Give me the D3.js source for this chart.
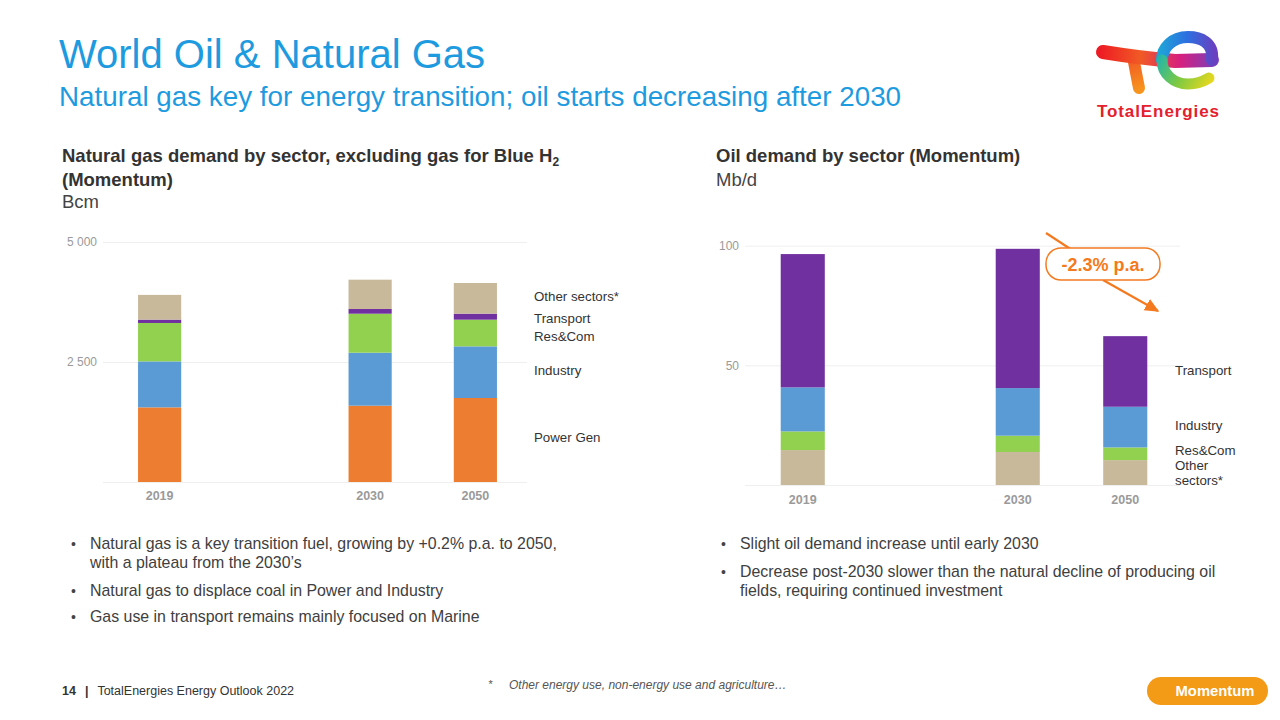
<!DOCTYPE html>
<html>
<head>
<meta charset="utf-8">
<script src="https://cdn.jsdelivr.net/npm/d3@7"></script>
<style>
  html, body { margin: 0; padding: 0; background: #fff; }
  svg { display: block; font-family: "Liberation Sans", Arial, Helvetica, sans-serif; }
</style>
</head>
<body>
<svg id="chart" width="1280" height="720"></svg>
<script>
// ---------------- DATA ----------------
const years = ["2019", "2030", "2050"];
const slots = ["2019", "gap", "2030", "2050"];

// Natural gas demand by sector (Bcm), bottom to top
const gasSectors = ["Power Gen", "Industry", "Res&Com", "Transport", "Other sectors*"];
const gasPowerGen = [1555, 1590, 1750];
const gasIndustry = [958, 1104, 1076];
const gasResCom = [800, 812, 556];
const gasTransport = [70, 98, 125];
const gasOther = [515, 611, 639];
const gasTicks = [2500, 5000];

// Oil demand by sector (Mb/d), bottom to top
const oilSectors = ["Other sectors*", "Res&Com", "Industry", "Transport"];
const oilOther = [14.6, 13.8, 10.4];
const oilResCom = [7.8, 6.8, 5.3];
const oilIndustry = [18.4, 19.9, 17.0];
const oilTransport = [55.7, 58.2, 29.5];
const oilTicks = [50, 100];

const sectorColors = {
  "Power Gen": "#ED7D31",
  "Industry": "#5B9BD5",
  "Res&Com": "#92D050",
  "Transport": "#7030A0",
  "Other sectors*": "#C9B99B"
};

const leftBullets = [
  ["Natural gas is a key transition fuel, growing by +0.2% p.a. to 2050,", "with a plateau from the 2030’s"],
  ["Natural gas to displace coal in Power and Industry"],
  ["Gas use in transport remains mainly focused on Marine"]
];
const rightBullets = [
  ["Slight oil demand increase until early 2030"],
  ["Decrease post-2030 slower than the natural decline of producing oil", "fields, requiring continued investment"]
];

// ---------------- DRAW ----------------
const svg = d3.select("#chart");
const blue = "#1E9BDF";
const textDark = "#333";
const axisGray = "#9a9a9a";

// Titles
svg.append("text").attr("x", 59).attr("y", 68).attr("fill", blue)
  .attr("font-size", 40).text("World Oil & Natural Gas");
svg.append("text").attr("x", 59).attr("y", 106).attr("fill", blue)
  .attr("font-size", 27.8).text("Natural gas key for energy transition; oil starts decreasing after 2030");

// Chart headings
const hs = 18.5;
const h1 = svg.append("text").attr("x", 62).attr("y", 162).attr("fill", textDark)
  .attr("font-size", hs).attr("font-weight", "bold");
h1.append("tspan").text("Natural gas demand by sector, excluding gas for Blue H");
h1.append("tspan").attr("font-size", 12).attr("dy", 4).text("2");
svg.append("text").attr("x", 62).attr("y", 186).attr("fill", textDark)
  .attr("font-size", hs).attr("font-weight", "bold").text("(Momentum)");
svg.append("text").attr("x", 62).attr("y", 208).attr("fill", "#444")
  .attr("font-size", hs).text("Bcm");

svg.append("text").attr("x", 716).attr("y", 162).attr("fill", textDark)
  .attr("font-size", hs).attr("font-weight", "bold").text("Oil demand by sector (Momentum)");
svg.append("text").attr("x", 716).attr("y", 186).attr("fill", "#444")
  .attr("font-size", hs).text("Mb/d");

const fmt = d3.formatLocale({ decimal: ",", thousands: " ", grouping: [3], currency: ["", ""] }).format(",");

function drawChart(cfg) {
  const g = svg.append("g");
  const x = d3.scaleBand().domain(slots).range(cfg.xRange).paddingInner(0.59).paddingOuter(0.295);
  const y = d3.scaleLinear().domain([0, cfg.yMax]).range(cfg.yRange);

  const yAxis = d3.axisLeft(y).tickValues(cfg.ticks).tickFormat(cfg.fmt)
    .tickSize(-(cfg.gridEnd - cfg.gridStart)).tickPadding(6);
  const ya = g.append("g").attr("transform", `translate(${cfg.gridStart},0)`).call(yAxis);
  ya.select(".domain").remove();
  ya.selectAll(".tick line").attr("stroke", "#EFEFEF").attr("stroke-width", 1);
  ya.selectAll(".tick text").attr("fill", axisGray).attr("font-size", 12)
    .attr("font-family", "Liberation Sans, Arial, sans-serif");
  g.append("line").attr("x1", cfg.gridStart).attr("x2", cfg.gridEnd)
    .attr("y1", y(0) + 0.5).attr("y2", y(0) + 0.5).attr("stroke", "#EFEFEF");

  const rows = years.map((yr, i) => {
    const r = { year: yr };
    cfg.keys.forEach((k, j) => { r[k] = cfg.series[j][i]; });
    return r;
  });
  const stack = d3.stack().keys(cfg.keys)(rows);
  g.selectAll("g.layer").data(stack).join("g").attr("class", "layer")
    .attr("fill", d => sectorColors[d.key])
    .selectAll("rect").data(d => d).join("rect")
    .attr("x", d => x(d.data.year))
    .attr("width", x.bandwidth())
    .attr("y", d => y(d[1]))
    .attr("height", d => y(d[0]) - y(d[1]));

  const xAxis = d3.axisBottom(x).tickValues(years).tickSize(0).tickPadding(cfg.xPad);
  const xa = g.append("g").attr("transform", `translate(0,${y(0)})`).call(xAxis);
  xa.select(".domain").remove();
  xa.selectAll(".tick text").attr("fill", axisGray).attr("font-size", 12.5).attr("font-weight", "bold")
    .attr("font-family", "Liberation Sans, Arial, sans-serif");

  cfg.labels.forEach(l => {
    g.append("text").attr("x", cfg.labelX).attr("y", l.y).attr("fill", textDark)
      .attr("font-size", 13.3).text(l.t);
  });
  return { x, y };
}

drawChart({
  xRange: [107, 528], yRange: [482, 242], yMax: 5000,
  gridStart: 103, gridEnd: 527, ticks: gasTicks, fmt: fmt, xPad: 9,
  keys: gasSectors,
  series: [gasPowerGen, gasIndustry, gasResCom, gasTransport, gasOther],
  labelX: 534,
  labels: [
    { t: "Other sectors*", y: 301 }, { t: "Transport", y: 323 }, { t: "Res&Com", y: 341 },
    { t: "Industry", y: 375 }, { t: "Power Gen", y: 442 }
  ]
});

drawChart({
  xRange: [749, 1179], yRange: [485, 245.7], yMax: 100,
  gridStart: 745, gridEnd: 1180, ticks: oilTicks, fmt: d3.format("d"), xPad: 10,
  keys: oilSectors,
  series: [oilOther, oilResCom, oilIndustry, oilTransport],
  labelX: 1175,
  labels: [
    { t: "Transport", y: 375 }, { t: "Industry", y: 430 }, { t: "Res&Com", y: 455 },
    { t: "Other", y: 470 }, { t: "sectors*", y: 485 }
  ]
});

// Annotation -2.3% p.a.
const orange = "#F47A20";
const defs = svg.append("defs");
defs.append("marker").attr("id", "arrow").attr("viewBox", "0 0 10 10")
  .attr("refX", 9).attr("refY", 5).attr("markerWidth", 6.5).attr("markerHeight", 6.5)
  .attr("markerUnits", "strokeWidth")
  .attr("orient", "auto")
  .append("path").attr("d", "M0,0.5 L10,5 L0,9.5 z").attr("fill", orange);
svg.append("line").attr("x1", 1046).attr("y1", 233).attr("x2", 1072).attr("y2", 250)
  .attr("stroke", orange).attr("stroke-width", 2.2);
svg.append("line").attr("x1", 1103).attr("y1", 280).attr("x2", 1158).attr("y2", 311)
  .attr("stroke", orange).attr("stroke-width", 2.2).attr("marker-end", "url(#arrow)");
svg.append("rect").attr("x", 1046).attr("y", 248).attr("width", 114).attr("height", 32)
  .attr("rx", 15).attr("fill", "#fff").attr("stroke", orange).attr("stroke-width", 1.5);
svg.append("text").attr("x", 1103).attr("y", 271).attr("text-anchor", "middle")
  .attr("fill", orange).attr("font-size", 18).attr("font-weight", "bold").text("-2.3% p.a.");

// Bullets
function bullets(list, bx, tx, ys) {
  let k = 0;
  list.forEach(lines => {
    svg.append("text").attr("x", bx).attr("y", ys[k]).attr("fill", "#444").attr("font-size", 14).text("•");
    lines.forEach(line => {
      svg.append("text").attr("x", tx).attr("y", ys[k]).attr("fill", "#404040")
        .attr("font-size", 15.9).text(line);
      k++;
    });
  });
}
bullets(leftBullets, 71, 90, [549, 568, 596, 622]);
bullets(rightBullets, 721, 740, [549, 577, 596]);

// Footer
const ft = svg.append("text").attr("x", 62).attr("y", 695).attr("fill", textDark).attr("font-size", 12.5);
ft.append("tspan").attr("font-weight", "bold").text("14");
ft.append("tspan").attr("dx", 9).attr("font-weight", "bold").text("|");
ft.append("tspan").attr("dx", 9).text("TotalEnergies Energy Outlook 2022");
svg.append("text").attr("x", 488).attr("y", 688).attr("fill", "#555").attr("font-size", 11)
  .attr("font-style", "italic").text("*");
svg.append("text").attr("x", 509).attr("y", 689).attr("fill", "#555").attr("font-size", 12)
  .attr("font-style", "italic").text("Other energy use, non-energy use and agriculture…");

svg.append("rect").attr("x", 1147).attr("y", 677).attr("width", 121).attr("height", 28)
  .attr("rx", 14).attr("fill", "#F39A16");
svg.append("text").attr("x", 1215).attr("y", 696).attr("text-anchor", "middle").attr("fill", "#fff")
  .attr("font-size", 14.8).attr("font-weight", "bold").text("Momentum");

// Logo (approximation)
function grad(id, x1, y1, x2, y2, stops) {
  const lg = defs.append("linearGradient").attr("id", id).attr("gradientUnits", "userSpaceOnUse")
    .attr("x1", x1).attr("y1", y1).attr("x2", x2).attr("y2", y2);
  stops.forEach(s => lg.append("stop").attr("offset", s[0]).attr("stop-color", s[1]));
}
grad("gBar", 1100, 55, 1215, 58, [[0, "#ED1C24"], [0.35, "#F15A24"], [0.7, "#D6207F"], [1, "#7B3FB8"]]);
grad("gStem", 1130, 60, 1140, 90, [[0, "#F15A24"], [1, "#F7941D"]]);
grad("gTop", 1215, 58, 1160, 58, [[0, "#6A3FC0"], [0.5, "#2D6FE0"], [1, "#1FA3D8"]]);
grad("gBot", 1158, 55, 1210, 85, [[0, "#1FB5B0"], [0.5, "#7BC943"], [1, "#E6D81E"]]);

const logo = svg.append("g");
logo.append("path").attr("d", "M1134,62 Q1137,78 1139,88").attr("fill", "none")
  .attr("stroke", "url(#gStem)").attr("stroke-width", 12).attr("stroke-linecap", "round");
logo.append("path").attr("d", "M1103,52 Q1140,58 1175,61 L1212,60").attr("fill", "none")
  .attr("stroke", "url(#gBar)").attr("stroke-width", 14).attr("stroke-linecap", "round");
logo.append("path").attr("d", "M1212,60 C1214,42 1200,37 1188,37 C1172,37 1162,48 1162,60")
  .attr("fill", "none").attr("stroke", "url(#gTop)").attr("stroke-width", 12).attr("stroke-linecap", "round");
logo.append("path").attr("d", "M1162,60 C1162,74 1174,84 1188,84 C1198,84 1204,81 1209,78")
  .attr("fill", "none").attr("stroke", "url(#gBot)").attr("stroke-width", 11).attr("stroke-linecap", "round");
svg.append("text").attr("x", 1097).attr("y", 117).attr("fill", "#E4202E").attr("font-size", 17)
  .attr("font-weight", "bold").attr("textLength", 122).text("TotalEnergies");
</script>
</body>
</html>
